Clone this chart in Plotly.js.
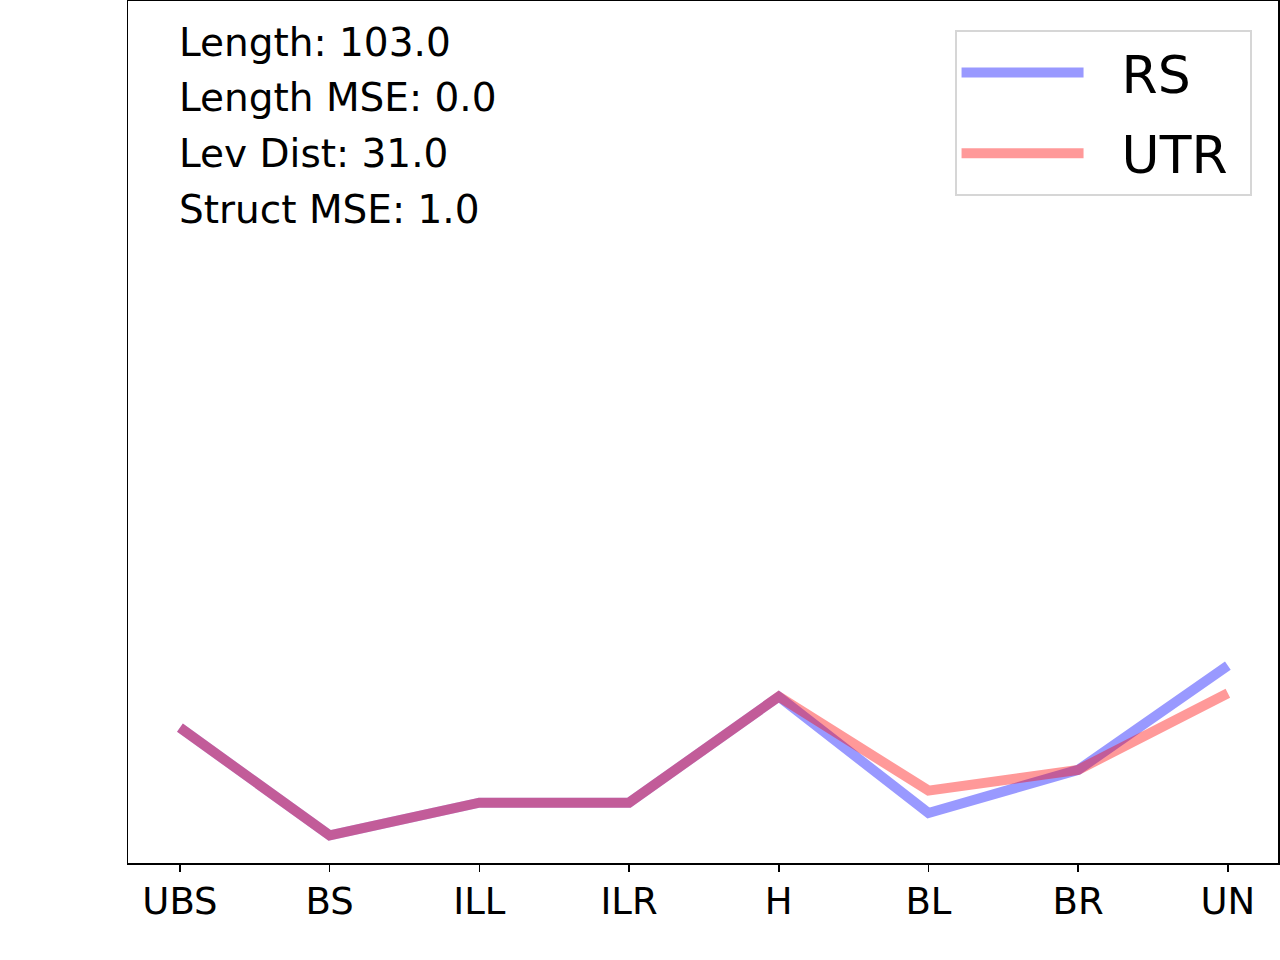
<!DOCTYPE html>
<html>
<head>
<meta charset="utf-8">
<script src="https://cdn.plot.ly/plotly-3.0.1.min.js"></script>
<style>
  html, body { margin: 0; padding: 0; background: #fff; }
  #structure_plot { width: 1280px; height: 960px; }
</style>
</head>
<body>
<div id="structure_plot"></div>
<script>
// structure elements along the x axis
const elements = ['UBS', 'BS', 'ILL', 'ILR', 'H', 'BL', 'BR', 'UN'];

// values (y axis has no ticks, scale 0..100)
const rs_values = [15.7, 3.2, 7.0, 7.0, 19.3, 5.8, 10.8, 22.9];
const utr_values = [15.7, 3.2, 7.0, 7.0, 19.3, 8.4, 10.8, 19.7];

// text block in the upper left corner
const stats_lines = [
  'Length: 103.0',
  'Length MSE: 0.0',
  'Lev Dist: 31.0',
  'Struct MSE: 1.0',
];

const base_font = 'DejaVu Sans, Liberation Sans, sans-serif';
// non-breaking spaces pad the legend labels like the matplotlib legend
const pad = '\u00a0\u00a0';

const data = [
  {
    x: elements,
    y: rs_values,
    name: pad + 'RS\u00a0',
    type: 'scatter',
    mode: 'lines',
    line: { color: 'rgba(0,0,255,0.4)', width: 10 },
    legendgroup: 'rs',
    hoverinfo: 'skip',
  },
  {
    x: elements,
    y: utr_values,
    name: pad + 'UTR\u00a0',
    type: 'scatter',
    mode: 'lines',
    line: { color: 'rgba(255,0,0,0.4)', width: 10 },
    legendgroup: 'utr',
    hoverinfo: 'skip',
  },
];

// one annotation per line so the spacing can follow the picture
const annotations = stats_lines.map((txt, i) => ({
  text: txt,
  xref: 'paper',
  yref: 'paper',
  x: 0.0429,
  y: 1 - (41 + i * 55.7) / 862,
  xanchor: 'left',
  yanchor: 'middle',
  showarrow: false,
  font: { family: base_font, size: 39, color: '#000000' },
}));

const layout = {
  width: 1280,
  height: 960,
  paper_bgcolor: '#ffffff',
  plot_bgcolor: '#ffffff',
  margin: { l: 128, r: 2, t: 1, b: 97, pad: 0 },
  font: { family: base_font, color: '#000000' },
  showlegend: true,
  legend: {
    x: 0.977,
    y: 0.966,
    xanchor: 'right',
    yanchor: 'top',
    bgcolor: '#ffffff',
    bordercolor: '#d6d6d6',
    borderwidth: 2,
    font: { family: base_font, size: 52, color: '#000000' },
    itemwidth: 122,
    traceorder: 'grouped',
    tracegroupgap: 10,
  },
  xaxis: {
    type: 'category',
    range: [-0.347, 7.335],
    showgrid: false,
    zeroline: false,
    showline: true,
    mirror: true,
    linecolor: '#000000',
    linewidth: 1.5,
    ticks: 'outside',
    ticklen: 7,
    tickwidth: 1.5,
    tickcolor: '#000000',
    ticklabelstandoff: -2,
    tickfont: { family: base_font, size: 37, color: '#000000' },
  },
  yaxis: {
    range: [0, 100],
    showgrid: false,
    zeroline: false,
    showline: true,
    mirror: true,
    linecolor: '#000000',
    linewidth: 1.5,
    ticks: '',
    showticklabels: false,
  },
  annotations: annotations,
};

Plotly.newPlot('structure_plot', data, layout, { staticPlot: true });
</script>
</body>
</html>
